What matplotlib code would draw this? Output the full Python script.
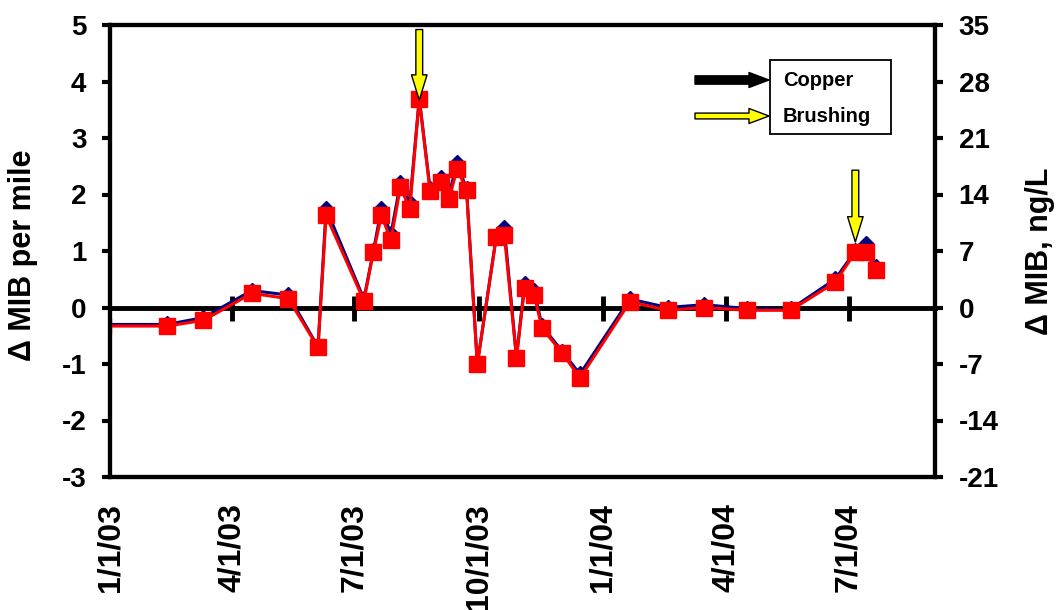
import matplotlib
matplotlib.use("Agg")
import matplotlib.pyplot as plt
import matplotlib.dates as mdates
from matplotlib.patches import Rectangle
import datetime as dt

plt.rcParams['font.family'] = ['Liberation Sans', 'DejaVu Sans']
plt.rcParams['font.weight'] = 'bold'

# ---- data ----
dates = ["2002-12-27", "2003-02-12", "2003-03-11", "2003-04-16", "2003-05-13", "2003-06-04",
         "2003-06-10", "2003-07-08", "2003-07-15", "2003-07-21", "2003-07-28", "2003-08-04",
         "2003-08-11", "2003-08-18", "2003-08-26", "2003-09-03", "2003-09-09", "2003-09-15",
         "2003-09-22", "2003-09-30", "2003-10-14", "2003-10-20", "2003-10-29", "2003-11-04",
         "2003-11-11", "2003-11-17", "2003-12-02", "2003-12-15", "2004-01-21", "2004-02-18",
         "2004-03-16", "2004-04-17", "2004-05-19", "2004-06-21", "2004-07-06", "2004-07-14",
         "2004-07-21"]
mib_per_mile = [-0.30, -0.30, -0.18, 0.30, 0.22, -0.70, 1.75, 0.15, 1.00, 1.75, 1.30, 2.20,
                1.85, 3.70, 2.10, 2.30, 2.00, 2.55, 2.10, -1.00, 1.25, 1.40, -0.88, 0.42,
                0.30, -0.33, -0.78, -1.18, 0.15, 0.00, 0.05, -0.02, -0.03, 0.50, 1.00, 1.12,
                0.72]
mib_ngL = [-2.3, -2.3, -1.6, 1.75, 1.1, -4.95, 11.4, 0.85, 6.85, 11.4, 8.35, 14.9,
           12.25, 25.85, 14.4, 15.6, 13.4, 17.15, 14.6, -7.05, 8.7, 9.0, -6.2, 2.45,
           1.6, -2.6, -5.65, -8.75, 0.7, -0.35, 0.0, -0.35, -0.35, 3.1, 6.85, 6.85,
           4.7]
tick_dates = ["2003-01-01", "2003-04-01", "2003-07-01", "2003-10-01", "2004-01-01",
              "2004-04-01", "2004-07-01"]
tick_labels = ["1/1/03", "4/1/03", "7/1/03", "10/1/03", "1/1/04", "4/1/04", "7/1/04"]
left_ticks = [-3, -2, -1, 0, 1, 2, 3, 4, 5]
right_ticks = [-21, -14, -7, 0, 7, 14, 21, 28, 35]
brushing_dates = ["2003-08-18", "2004-07-06"]
brushing_tip = [3.67, 1.16]
brushing_top = [4.92, 2.43]

def d(s):
    return dt.datetime.strptime(s, "%Y-%m-%d")

x = [d(s) for s in dates]
xt = [d(s) for s in tick_dates]

W, H = 1057, 610
fig = plt.figure(figsize=(W / 100, H / 100), dpi=100)
L, R, T, B = 110.1, 935, 25, 477
ax = fig.add_axes([L / W, (H - B) / H, (R - L) / W, (B - T) / H])

ax.set_xlim(d("2003-01-01"), d("2004-09-03"))
ax.set_ylim(-3, 5)

ax.plot(x, mib_per_mile, color='#000080', lw=2.2, marker='D', markersize=8,
        markerfacecolor='#000080', markeredgecolor='#000080', zorder=3)
ax.plot(x, [v / 7 for v in mib_ngL], color='#FF0000', lw=2.2, marker='s', markersize=11.5,
        markerfacecolor='#FF0000', markeredgecolor='#FF0000', zorder=4)

# zero line with quarterly ticks
sec = ax.secondary_xaxis(3 / 8)
sec.set_xticks(xt[1:])
sec.tick_params(direction='inout', length=18, width=3.5, labelbottom=False, labeltop=False)
sec.spines['bottom'].set_linewidth(3.5)
sec.spines['top'].set_visible(False)

ax.set_xticks(xt)
ax.set_xticklabels(tick_labels, rotation=90, fontsize=23, fontweight='bold', va='top')
ax.tick_params(axis='x', length=0, pad=19)

ax.set_yticks(left_ticks)
ax.set_yticklabels([str(v) for v in left_ticks], fontsize=20, fontweight='bold')
ax.tick_params(axis='y', direction='out', length=6, width=3, pad=11)

for s in ax.spines.values():
    s.set_linewidth(3)

ax2 = ax.twinx()
ax2.set_ylim(-21, 35)
ax2.set_yticks(right_ticks)
ax2.set_yticklabels([str(v) for v in right_ticks], fontsize=20, fontweight='bold')
ax2.tick_params(axis='y', direction='out', length=6, width=3, pad=11)
for s in ax2.spines.values():
    s.set_linewidth(3)

ax.set_ylabel("Δ MIB per mile", fontsize=22, fontweight='bold')
ax.yaxis.set_label_coords(-0.088, 0.49)
ax2.set_ylabel("Δ MIB, ng/L", fontsize=22, fontweight='bold', rotation=90)
ax2.yaxis.set_label_coords(1.109, 0.5)

# brushing arrows
for bd, tip, top in zip(brushing_dates, brushing_tip, brushing_top):
    ax.annotate('', xy=(d(bd), tip), xytext=(d(bd), top),
                arrowprops=dict(arrowstyle='simple,head_width=0.8,head_length=1.3,tail_width=0.35',
                                fc='#FFFF00', ec='black', lw=1, shrinkA=0, shrinkB=0,
                                mutation_scale=14),
                zorder=6, annotation_clip=False)

# legend box
def fp(px, py):
    return (px / W, (H - py) / H)

fig.patches.append(Rectangle(fp(770, 134), 121 / W, 74 / H, transform=fig.transFigure,
                             fill=False, ec='black', lw=1.3, zorder=10))
fig.text(*fp(783, 81), "Copper", fontsize=14.5, fontweight='bold', va='center', ha='left')
fig.text(*fp(783, 116), "Brushing", fontsize=14.5, fontweight='bold', va='center', ha='left')
ax.annotate('', xy=fp(769, 80), xytext=fp(695, 80), xycoords='figure fraction',
            textcoords='figure fraction',
            arrowprops=dict(arrowstyle='simple,head_width=0.9,head_length=1.2,tail_width=0.5',
                            fc='black', ec='black', lw=1, shrinkA=0, shrinkB=0,
                            mutation_scale=12), annotation_clip=False)
ax.annotate('', xy=fp(769, 116), xytext=fp(695, 116), xycoords='figure fraction',
            textcoords='figure fraction',
            arrowprops=dict(arrowstyle='simple,head_width=0.9,head_length=1.2,tail_width=0.35',
                            fc='#FFFF00', ec='black', lw=1, shrinkA=0, shrinkB=0,
                            mutation_scale=12), annotation_clip=False)

fig.savefig("out.png", dpi=100)
